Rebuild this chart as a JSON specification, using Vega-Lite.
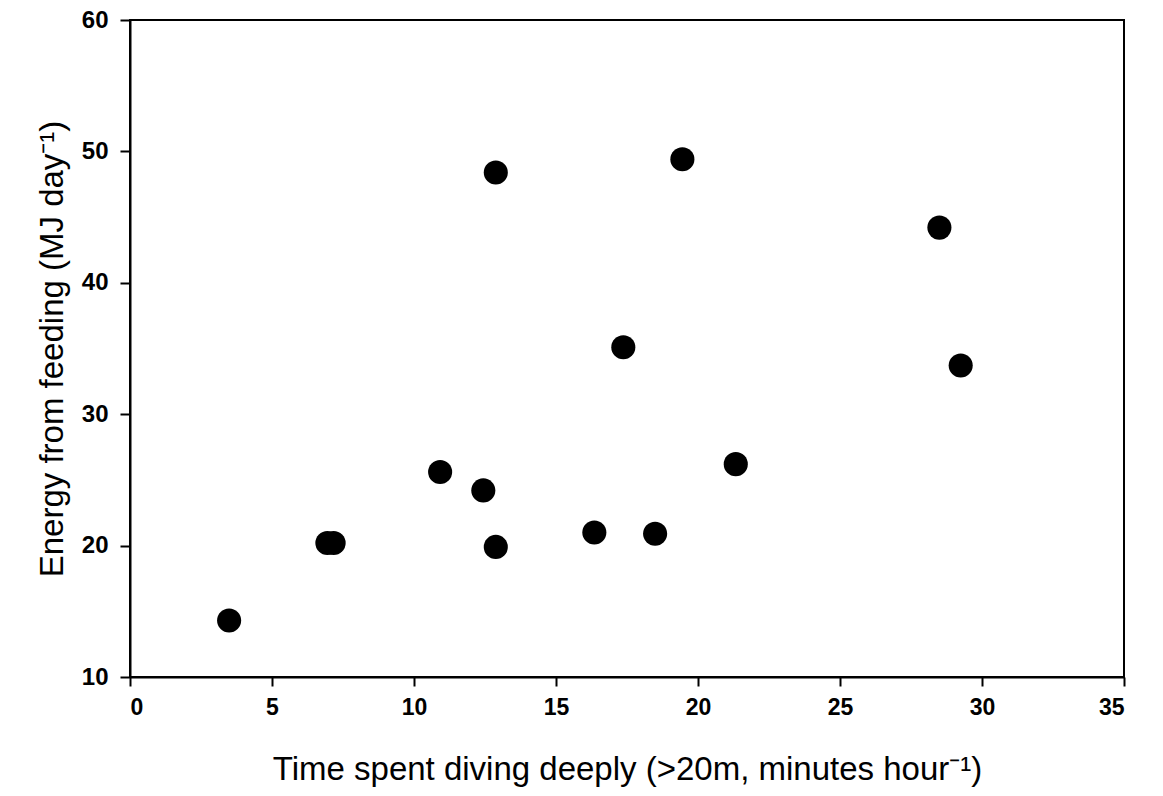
{
  "$schema": "https://vega.github.io/schema/vega-lite/v6.json",
  "width": 994,
  "height": 657,
  "autosize": {"type": "none"},
  "padding": {"left": 130, "top": 20, "right": 39, "bottom": 119},
  "background": "white",
  "config": {
    "view": {"stroke": "black", "strokeWidth": 2},
    "font": "Liberation Sans"
  },
  "data": {
    "values": [
      {"time": 3.49, "energy": 14.3},
      {"time": 6.95, "energy": 20.2},
      {"time": 7.17, "energy": 20.2},
      {"time": 10.92, "energy": 25.6},
      {"time": 12.44, "energy": 24.2},
      {"time": 12.88, "energy": 19.9},
      {"time": 12.88, "energy": 48.4},
      {"time": 16.35, "energy": 21.0},
      {"time": 17.37, "energy": 35.1},
      {"time": 18.49, "energy": 20.9},
      {"time": 19.45, "energy": 49.4},
      {"time": 21.33, "energy": 26.2},
      {"time": 28.5, "energy": 44.2},
      {"time": 29.25, "energy": 33.7}
    ]
  },
  "mark": {"type": "circle", "size": 580, "color": "black", "opacity": 1},
  "encoding": {
    "x": {
      "field": "time",
      "type": "quantitative",
      "scale": {"domain": [0, 35], "nice": false, "zero": false},
      "axis": {
        "title": "Time spent diving deeply (>20m, minutes hour⁻¹)",
        "values": [0, 5, 10, 15, 20, 25, 30, 35],
        "grid": false,
        "domainColor": "black",
        "domainWidth": 2,
        "tickColor": "black",
        "tickWidth": 2,
        "tickSize": 9,
        "labelFont": "Liberation Sans",
        "labelFontWeight": "bold",
        "labelFontSize": 23,
        "labelColor": "black",
        "labelPadding": 10,
        "titleFont": "Liberation Sans",
        "titleFontWeight": "normal",
        "titleFontSize": 33,
        "titleColor": "black",
        "titlePadding": 34
      }
    },
    "y": {
      "field": "energy",
      "type": "quantitative",
      "scale": {"domain": [10, 60], "nice": false, "zero": false},
      "axis": {
        "title": "Energy from feeding (MJ day⁻¹)",
        "values": [10, 20, 30, 40, 50, 60],
        "grid": false,
        "domainColor": "black",
        "domainWidth": 2,
        "tickColor": "black",
        "tickWidth": 2,
        "tickSize": 10,
        "labelFont": "Liberation Sans",
        "labelFontWeight": "bold",
        "labelFontSize": 24,
        "labelColor": "black",
        "labelPadding": 12,
        "titleFont": "Liberation Sans",
        "titleFontWeight": "normal",
        "titleFontSize": 33,
        "titleColor": "black",
        "titlePadding": 12
      }
    }
  }
}
